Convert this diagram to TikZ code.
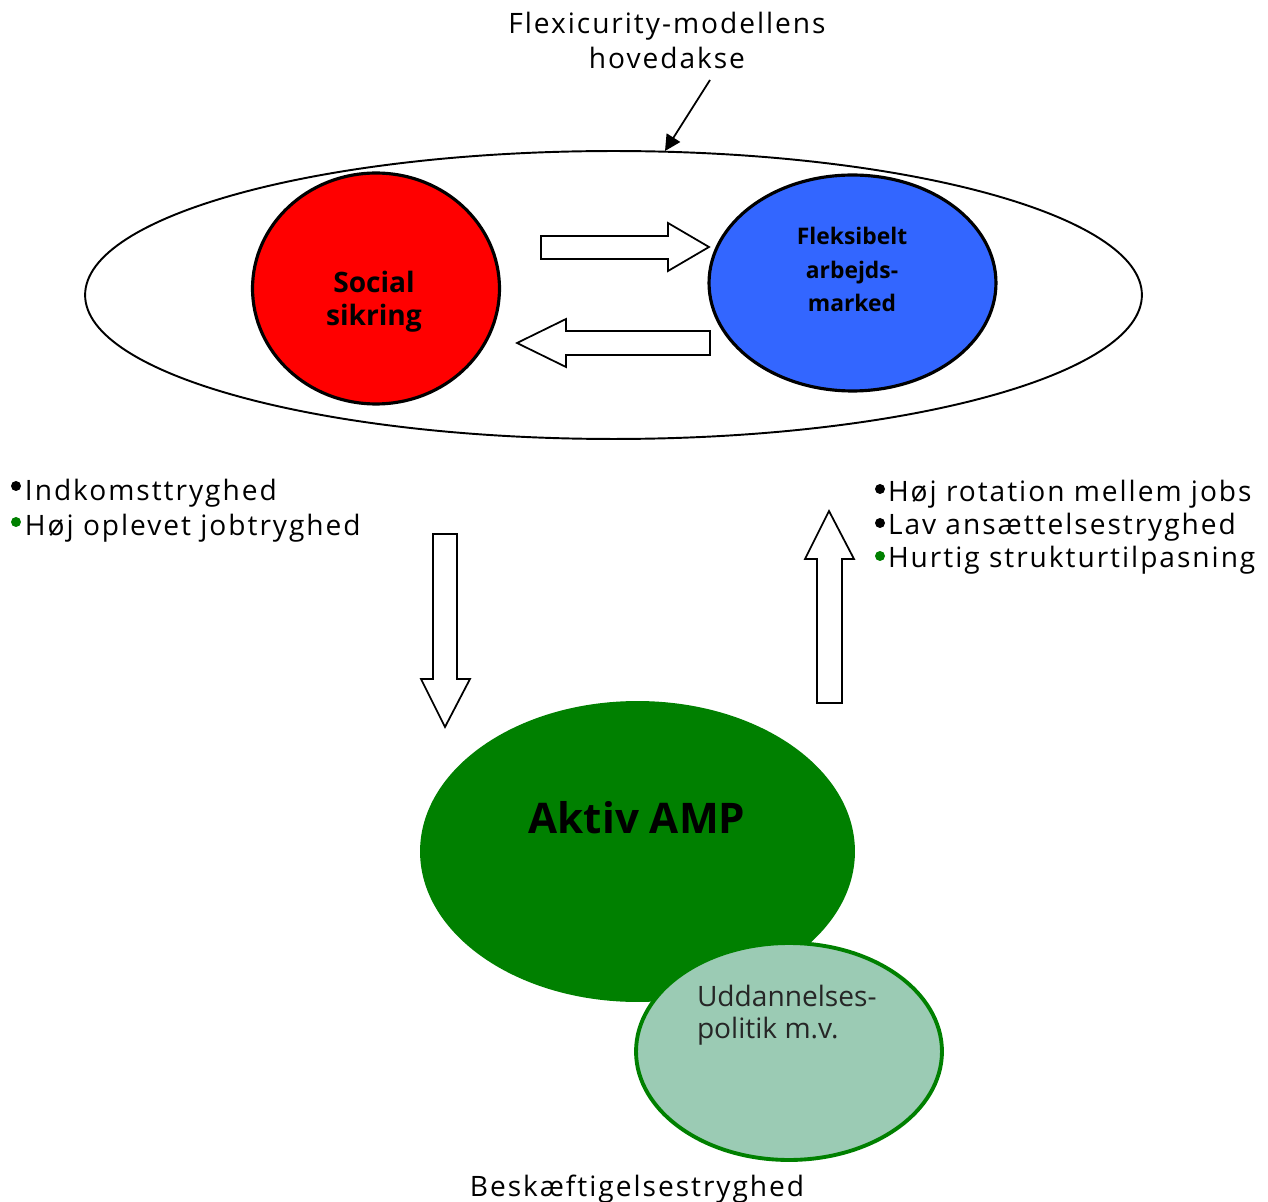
\documentclass[tikz,border=0pt]{standalone}
\usepackage{fontspec}
\setmainfont{Open Sans}
\newfontfamily\spaced[LetterSpace=7]{Open Sans}
\usetikzlibrary{arrows.meta,shapes.geometric}
\definecolor{ampgreen}{HTML}{008000}
\definecolor{uddgreen}{HTML}{9BCBB4}
\definecolor{flexblue}{HTML}{3366FF}
\begin{document}
\begin{tikzpicture}[x=0.02cm,y=-0.02cm,
  txt/.style={font=\fontsize{16}{19}\selectfont\spaced, inner sep=0pt, outer sep=0pt},
  plain/.style={font=\fontsize{16}{18}\selectfont, inner sep=0pt, outer sep=0pt},
  bold16/.style={font=\fontsize{16}{19}\selectfont\bfseries, inner sep=0pt},
  bold12/.style={font=\fontsize{13}{15}\selectfont\bfseries, inner sep=0pt},
  blob/.style={ellipse, inner sep=0pt, outer sep=0pt},
  bulletdot/.style={circle, inner sep=0pt, minimum size=0.2cm},
  blockarrow/.style={draw=black, line width=1pt, fill=white, line join=miter}]
\path[use as bounding box] (0,0) rectangle (1268,1202);

% title
\node[txt, align=center, font=\fontsize{16}{20.4}\selectfont\spaced, anchor=base] (title) at (667,69) {Flexicurity-modellens\\hovedakse};

% main axis ellipse
\node[blob, draw=black, line width=1.1pt, minimum width=21.14cm, minimum height=5.76cm] (axis) at (613.5,295) {};
\coordinate (ptrstart) at (710,80);
\coordinate (ptrend) at (665,151);
\draw[line width=1pt, -{Triangle[length=9pt,width=9pt]}] (ptrstart) -- (ptrend);

% social sikring
\node[blob, draw=black, fill=red, line width=1.8pt, minimum width=4.94cm, minimum height=4.62cm] (social) at (376,288.5) {};
\node[bold16, align=center, font=\fontsize{16}{19.3}\selectfont\bfseries, anchor=base] (socialt) at (374,326) {Social\\sikring};

% fleksibelt arbejdsmarked
\node[blob, draw=black, fill=flexblue, line width=1.8pt, minimum width=5.74cm, minimum height=4.32cm] (flex) at (852.5,283) {};
\node[bold12, align=center, font=\fontsize{13}{19.3}\selectfont\bfseries, anchor=base] (flext) at (852,312) {Fleksibelt\\arbejds-\\marked};

% horizontal block arrows
\draw[blockarrow] (541,236) -- (668,236) -- (668,223) -- (709,247) -- (668,271) -- (668,259) -- (541,259) -- cycle;
\draw[blockarrow] (710,331) -- (566,331) -- (566,319) -- (517,343) -- (566,367) -- (566,355) -- (710,355) -- cycle;

% left list
\node[bulletdot, fill=black] (lb1) at (16,486) {};
\node[bulletdot, fill=ampgreen] (lb2) at (16,522) {};
\node[txt, align=left, font=\fontsize{16}{20.4}\selectfont\spaced, anchor=base west] (left) at (25,536)
  {Indkomsttryghed\\Høj oplevet jobtryghed};

% right list
\node[bulletdot, fill=black] (rb1) at (880,489) {};
\node[bulletdot, fill=black] (rb2) at (880,523) {};
\node[bulletdot, fill=ampgreen] (rb3) at (880,556) {};
\node[txt, align=left, font=\fontsize{16}{18.8}\selectfont\spaced, anchor=base west] (right) at (888,568)
  {Høj rotation mellem jobs\\Lav ansættelsestryghed\\Hurtig strukturtilpasning};

% vertical block arrows
\draw[blockarrow] (433,534) -- (457,534) -- (457,679) -- (470,679) -- (445,727) -- (421,679) -- (433,679) -- cycle;
\draw[blockarrow] (817,703) -- (842,703) -- (842,559) -- (854,559) -- (829,511) -- (805,559) -- (817,559) -- cycle;

% aktiv AMP
\node[blob, fill=ampgreen, minimum width=8.7cm, minimum height=6.02cm] (amp) at (637.5,851.5) {};
\node[font=\fontsize{24}{28}\selectfont\bfseries, inner sep=0pt, anchor=base] (ampt) at (637,833) {Aktiv AMP};

% uddannelsespolitik
\node[blob, draw=ampgreen, fill=uddgreen, line width=2.2pt, minimum width=6.12cm, minimum height=4.34cm] (udd) at (789,1051.5) {};
\node[plain, align=left, anchor=base west, text=black!85] (uddt) at (697,1038) {Uddannelses-\\politik m.v.};

% bottom label
\node[txt, anchor=base] (besk) at (637,1196) {Beskæftigelsestryghed};
\end{tikzpicture}
\end{document}
